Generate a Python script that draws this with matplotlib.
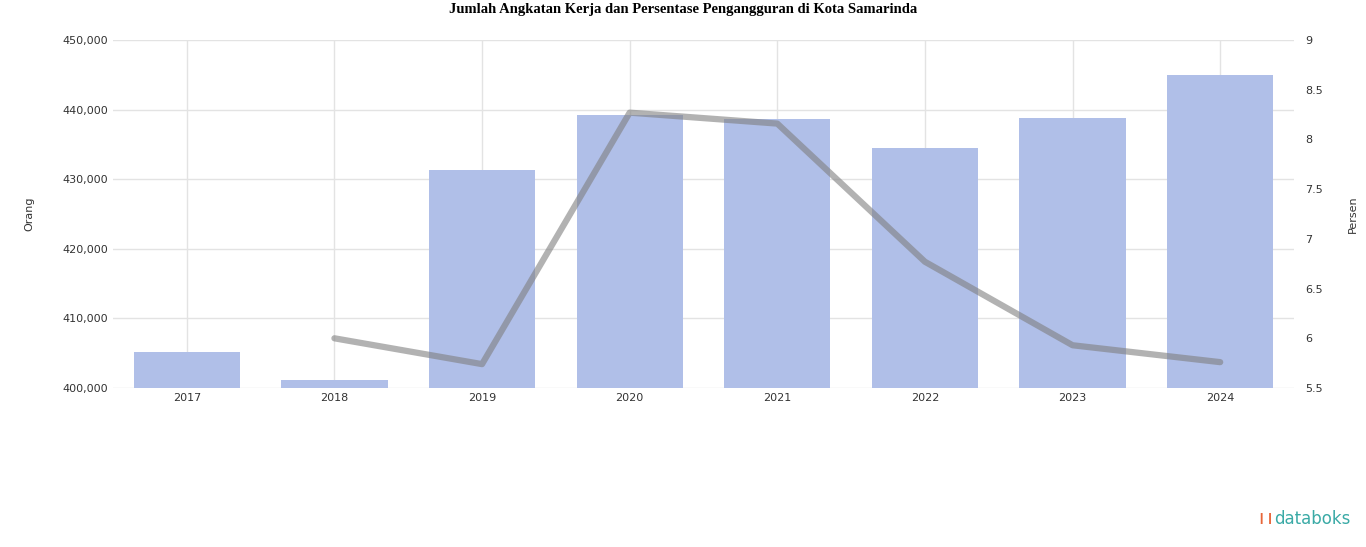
import matplotlib
matplotlib.use("Agg")
import matplotlib.pyplot as plt
from matplotlib.ticker import FuncFormatter

years = ["2017", "2018", "2019", "2020", "2021", "2022", "2023", "2024"]
angkatan_kerja = [405200, 401100, 431300, 439200, 438600, 434500, 438800, 445000]
tahun_persen = ["2018", "2019", "2020", "2021", "2022", "2023", "2024"]
pengangguran = [6.00, 5.74, 8.27, 8.16, 6.77, 5.93, 5.76]

fig = plt.figure(figsize=(13.66, 5.47), dpi=100)
ax = fig.add_axes([0.0827, 0.2907, 0.8646, 0.636])
ax2 = ax.twinx()

x = list(range(len(years)))
ax.bar(x, [v - 400000 for v in angkatan_kerja], bottom=400000, width=0.72,
       color="#b0bfe8", zorder=2)
ax.set_ylim(400000, 450000)
ax.set_yticks(range(400000, 450001, 10000))
ax.yaxis.set_major_formatter(FuncFormatter(lambda v, p: f"{int(v):,}"))
ax.set_xlim(-0.5, len(years) - 0.5)
ax.set_xticks(x)
ax.set_xticklabels(years)
ax.grid(True, color="#e3e3e3", linewidth=1, zorder=0)
ax.set_axisbelow(True)
ax.tick_params(length=0, labelsize=8, colors="#333333")
ax.set_ylabel("Orang", fontsize=8, color="#333333", labelpad=20)

xl = [years.index(t) for t in tahun_persen]
ax2.plot(xl, pengangguran, color="#7f7f7f", alpha=0.6, linewidth=4.5,
         solid_capstyle="round", zorder=3)
ax2.set_ylim(5.5, 9)
ax2.set_yticks([5.5, 6, 6.5, 7, 7.5, 8, 8.5, 9])
ax2.yaxis.set_major_formatter(FuncFormatter(lambda v, p: f"{v:g}"))
ax2.tick_params(length=0, labelsize=8, colors="#333333", pad=8)
ax2.set_ylabel("Persen", fontsize=8, color="#333333", labelpad=18)

for a in (ax, ax2):
    for s in a.spines.values():
        s.set_visible(False)

fig.text(0.5, 0.983, "Jumlah Angkatan Kerja dan Persentase Pengangguran di Kota Samarinda",
         ha="center", va="center", fontsize=10.5, fontweight="bold",
         family="Liberation Serif")
fig.text(0.989, 0.052, "databoks", ha="right", va="center", fontsize=12,
         color="#3aaaa6")
fig.text(0.9335, 0.052, "\u2759\u2759", ha="right", va="center", fontsize=8,
         color="#e8663a", family="DejaVu Sans")

fig.savefig("out.png", dpi=100)
